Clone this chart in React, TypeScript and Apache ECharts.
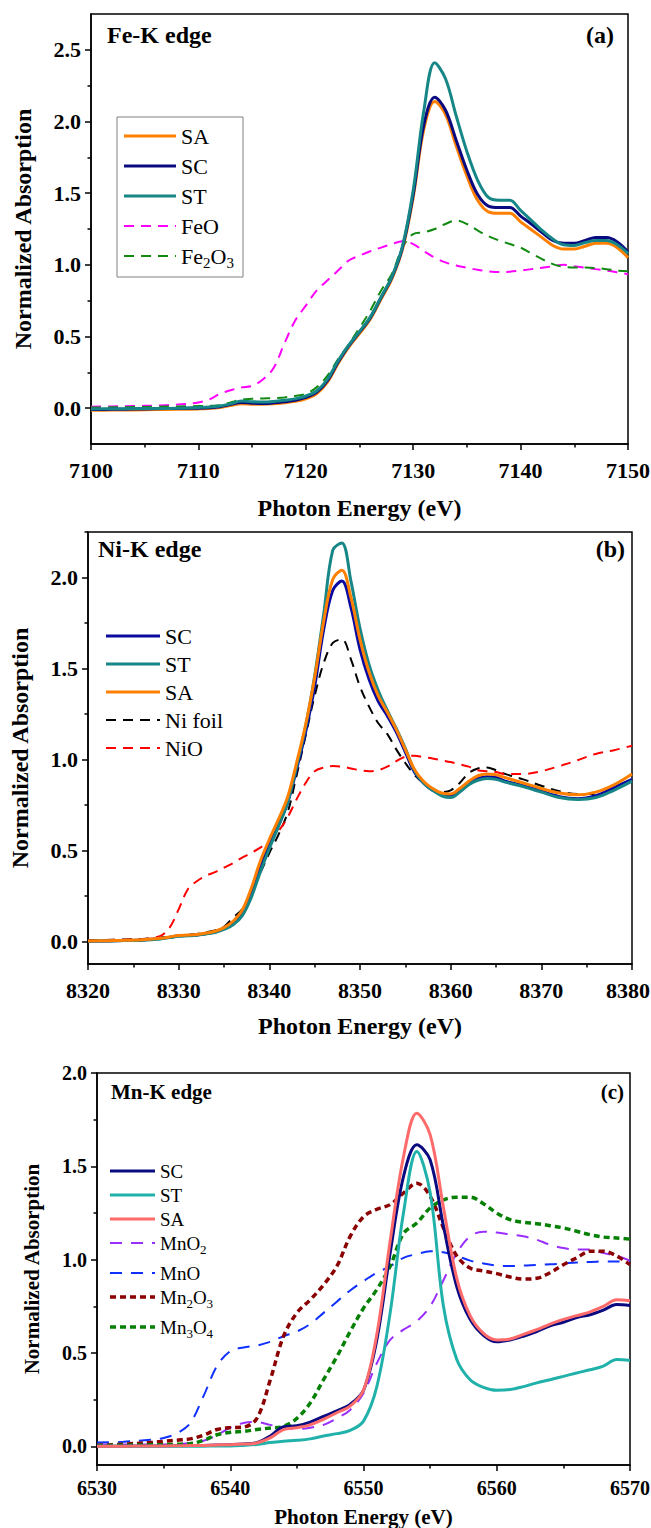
import React, { useEffect, useRef } from "react";
import * as echarts from "echarts";

const FONT = "Times New Roman, Liberation Serif, serif";

// ---------- Panel (a) Fe-K edge ----------
const feEnergy = [7100, 7102, 7104, 7106, 7108, 7110, 7111, 7112, 7113, 7114, 7115, 7116, 7117, 7118, 7119, 7120, 7121, 7122, 7123, 7124, 7125, 7126, 7127, 7128, 7129, 7130, 7131, 7132, 7133, 7134, 7135, 7136, 7137, 7138, 7139, 7140, 7141, 7142, 7143, 7144, 7145, 7146, 7147, 7148, 7149, 7150];
const feSA = [-0.015, -0.013, -0.012, -0.01, -0.008, -0.005, -0.002, 0.005, 0.018, 0.03, 0.028, 0.027, 0.03, 0.038, 0.048, 0.065, 0.10, 0.18, 0.31, 0.425, 0.52, 0.62, 0.76, 0.90, 1.11, 1.47, 1.95, 2.14, 2.05, 1.83, 1.62, 1.45, 1.37, 1.36, 1.36, 1.30, 1.245, 1.19, 1.135, 1.11, 1.11, 1.13, 1.15, 1.15, 1.12, 1.05];
const feSC = [-0.01, -0.008, -0.006, -0.004, -0.002, 0.0, 0.003, 0.01, 0.025, 0.04, 0.035, 0.033, 0.037, 0.045, 0.055, 0.075, 0.11, 0.19, 0.32, 0.435, 0.53, 0.63, 0.77, 0.91, 1.12, 1.49, 1.98, 2.17, 2.08, 1.87, 1.66, 1.49, 1.41, 1.40, 1.40, 1.34, 1.285, 1.225, 1.17, 1.15, 1.15, 1.17, 1.19, 1.19, 1.16, 1.09];
const feST = [-0.005, -0.004, -0.003, -0.002, 0.0, 0.005, 0.008, 0.015, 0.03, 0.05, 0.045, 0.043, 0.047, 0.055, 0.065, 0.085, 0.12, 0.20, 0.33, 0.44, 0.535, 0.635, 0.775, 0.915, 1.13, 1.52, 2.08, 2.41, 2.30, 2.04, 1.79, 1.59, 1.47, 1.45, 1.45, 1.38, 1.31, 1.24, 1.18, 1.14, 1.135, 1.155, 1.17, 1.17, 1.14, 1.08];
const feFeO = [0.01, 0.012, 0.015, 0.018, 0.025, 0.04, 0.06, 0.10, 0.125, 0.145, 0.155, 0.20, 0.28, 0.45, 0.61, 0.715, 0.82, 0.89, 0.96, 1.03, 1.064, 1.095, 1.12, 1.145, 1.165, 1.145, 1.095, 1.05, 1.017, 0.995, 0.98, 0.965, 0.955, 0.95, 0.952, 0.96, 0.97, 0.98, 0.99, 1.0, 0.99, 0.98, 0.97, 0.96, 0.948, 0.935];
const feFe2O3 = [0.005, 0.006, 0.008, 0.01, 0.012, 0.015, 0.017, 0.02, 0.04, 0.06, 0.065, 0.068, 0.07, 0.075, 0.085, 0.10, 0.145, 0.225, 0.34, 0.445, 0.56, 0.68, 0.82, 0.935, 1.12, 1.215, 1.227, 1.25, 1.285, 1.31, 1.285, 1.24, 1.20, 1.17, 1.145, 1.12, 1.08, 1.04, 1.005, 0.987, 0.982, 0.982, 0.978, 0.97, 0.96, 0.955];
const feXTicks = [7100, 7110, 7120, 7130, 7140, 7150];
const feYTicks = [0, 0.5, 1.0, 1.5, 2.0, 2.5];
const feYMinor = [0.25, 0.75, 1.25, 1.75, 2.25];

// ---------- Panel (b) Ni-K edge ----------
const niEnergy = [8320, 8322, 8324, 8326, 8328, 8329, 8330, 8331, 8332, 8333, 8334, 8335, 8336, 8337, 8338, 8339, 8340, 8341, 8342, 8343, 8344, 8345, 8346, 8347, 8348, 8349, 8350, 8351, 8352, 8353, 8354, 8355, 8356, 8357, 8358, 8359, 8360, 8361, 8362, 8363, 8364, 8365, 8366, 8368, 8370, 8372, 8374, 8376, 8378, 8380];
const niSC = [0, 0.002, 0.004, 0.007, 0.015, 0.022, 0.03, 0.032, 0.035, 0.042, 0.05, 0.07, 0.10, 0.155, 0.27, 0.41, 0.53, 0.64, 0.76, 0.945, 1.15, 1.40, 1.715, 1.93, 1.98, 1.835, 1.605, 1.44, 1.32, 1.24, 1.15, 1.04, 0.93, 0.87, 0.83, 0.81, 0.80, 0.835, 0.87, 0.895, 0.905, 0.90, 0.88, 0.855, 0.825, 0.795, 0.783, 0.80, 0.845, 0.89];
const niST = [0, 0.002, 0.004, 0.006, 0.013, 0.02, 0.027, 0.03, 0.033, 0.04, 0.048, 0.065, 0.09, 0.14, 0.24, 0.38, 0.51, 0.63, 0.76, 0.96, 1.18, 1.46, 1.80, 2.15, 2.19, 1.98, 1.72, 1.52, 1.38, 1.27, 1.17, 1.06, 0.94, 0.87, 0.83, 0.80, 0.79, 0.82, 0.86, 0.885, 0.895, 0.89, 0.875, 0.85, 0.82, 0.79, 0.78, 0.79, 0.83, 0.88];
const niSA = [0.002, 0.003, 0.005, 0.008, 0.016, 0.024, 0.032, 0.034, 0.037, 0.045, 0.055, 0.075, 0.11, 0.17, 0.29, 0.44, 0.56, 0.67, 0.79, 0.98, 1.19, 1.45, 1.76, 1.99, 2.04, 1.89, 1.66, 1.48, 1.35, 1.26, 1.165, 1.055, 0.945, 0.88, 0.84, 0.815, 0.81, 0.84, 0.88, 0.91, 0.92, 0.915, 0.90, 0.87, 0.84, 0.815, 0.805, 0.82, 0.86, 0.92];
const niFoil = [0.005, 0.007, 0.01, 0.013, 0.02, 0.025, 0.03, 0.035, 0.04, 0.05, 0.06, 0.08, 0.13, 0.175, 0.27, 0.375, 0.485, 0.585, 0.705, 0.91, 1.13, 1.35, 1.53, 1.64, 1.66, 1.55, 1.40, 1.29, 1.20, 1.14, 1.055, 0.98, 0.915, 0.87, 0.84, 0.82, 0.83, 0.87, 0.925, 0.95, 0.955, 0.94, 0.92, 0.89, 0.855, 0.825, 0.81, 0.81, 0.835, 0.88];
const niNiO = [0.005, 0.007, 0.009, 0.012, 0.03, 0.075, 0.175, 0.285, 0.33, 0.36, 0.38, 0.405, 0.43, 0.46, 0.485, 0.515, 0.55, 0.605, 0.68, 0.78, 0.87, 0.935, 0.955, 0.963, 0.96, 0.95, 0.94, 0.935, 0.94, 0.96, 0.99, 1.015, 1.02, 1.012, 1.005, 0.995, 0.985, 0.973, 0.96, 0.94, 0.935, 0.93, 0.92, 0.92, 0.935, 0.963, 0.995, 1.03, 1.05, 1.075];
const niXTicks = [8320, 8330, 8340, 8350, 8360, 8370, 8380];
const niYTicks = [0, 0.5, 1.0, 1.5, 2.0];
const niYMinor = [0.25, 0.75, 1.25, 1.75, 2.25];

// ---------- Panel (c) Mn-K edge ----------
const mnEnergy = [6530, 6532, 6534, 6535, 6536, 6537, 6538, 6539, 6540, 6541, 6542, 6543, 6544, 6545, 6546, 6547, 6548, 6549, 6550, 6551, 6552, 6553, 6554, 6555, 6556, 6557, 6558, 6559, 6560, 6561, 6562, 6563, 6564, 6565, 6566, 6567, 6568, 6569, 6570];
const mnSC = [0, 0.001, 0.002, 0.002, 0.003, 0.004, 0.005, 0.007, 0.009, 0.0125, 0.02, 0.055, 0.105, 0.11, 0.13, 0.16, 0.19, 0.225, 0.30, 0.57, 1.035, 1.445, 1.615, 1.535, 1.18, 0.855, 0.68, 0.595, 0.56, 0.57, 0.59, 0.615, 0.645, 0.665, 0.69, 0.705, 0.73, 0.76, 0.755];
const mnST = [0, 0, 0, 0, 0.001, 0.001, 0.001, 0.002, 0.002, 0.005, 0.01, 0.02, 0.027, 0.032, 0.04, 0.055, 0.068, 0.085, 0.135, 0.32, 0.715, 1.25, 1.58, 1.36, 0.75, 0.465, 0.357, 0.316, 0.30, 0.304, 0.32, 0.34, 0.357, 0.375, 0.393, 0.41, 0.43, 0.465, 0.46];
const mnSA = [0, 0.001, 0.002, 0.002, 0.003, 0.004, 0.005, 0.007, 0.009, 0.012, 0.018, 0.045, 0.09, 0.10, 0.115, 0.145, 0.18, 0.215, 0.30, 0.60, 1.10, 1.55, 1.785, 1.67, 1.28, 0.90, 0.70, 0.605, 0.57, 0.575, 0.60, 0.625, 0.655, 0.68, 0.70, 0.72, 0.75, 0.785, 0.78];
const mnMnO2 = [0.01, 0.01, 0.01, 0.01, 0.012, 0.018, 0.03, 0.06, 0.10, 0.125, 0.13, 0.115, 0.10, 0.093, 0.10, 0.115, 0.15, 0.195, 0.285, 0.445, 0.57, 0.625, 0.67, 0.75, 0.89, 1.035, 1.125, 1.15, 1.145, 1.135, 1.125, 1.107, 1.08, 1.062, 1.055, 1.055, 1.035, 1.02, 0.995];
const mnMnO = [0.02, 0.025, 0.035, 0.045, 0.07, 0.125, 0.27, 0.43, 0.51, 0.53, 0.54, 0.56, 0.59, 0.615, 0.655, 0.715, 0.775, 0.835, 0.885, 0.93, 0.965, 1.01, 1.03, 1.045, 1.04, 1.02, 0.995, 0.98, 0.968, 0.966, 0.968, 0.972, 0.975, 0.98, 0.985, 0.988, 0.99, 0.99, 0.988];
const mnMn2O3 = [0.005, 0.012, 0.02, 0.027, 0.033, 0.04, 0.06, 0.09, 0.10, 0.103, 0.15, 0.355, 0.59, 0.715, 0.785, 0.865, 0.965, 1.125, 1.23, 1.27, 1.295, 1.357, 1.41, 1.34, 1.17, 1.02, 0.955, 0.94, 0.925, 0.907, 0.896, 0.90, 0.93, 0.973, 1.01, 1.045, 1.045, 1.02, 0.973];
const mnMn3O4 = [0.004, 0.006, 0.008, 0.009, 0.011, 0.014, 0.032, 0.062, 0.075, 0.08, 0.09, 0.098, 0.107, 0.15, 0.232, 0.357, 0.48, 0.615, 0.74, 0.84, 0.965, 1.14, 1.196, 1.277, 1.32, 1.335, 1.335, 1.30, 1.25, 1.214, 1.20, 1.193, 1.182, 1.17, 1.152, 1.134, 1.121, 1.116, 1.11];
const mnXTicks = [6530, 6540, 6550, 6560, 6570];
const mnYTicks = [0, 0.5, 1.0, 1.5, 2.0];
const mnYMinor = [0.25, 0.75, 1.25, 1.75];

type Def = { name: string; x: number[]; y: number[]; color: string; width: number; dash?: number[] };

const zip = (xs: number[], ys: number[]) => xs.map((x, i) => [x, ys[i]]);
const richLabel = (name: string) => name.replace(/(\d)/g, "{sub|$1}");

const DASH = [10, 7];
const LDASH = [12, 9];
const DOT = [6, 4];

const panelA: Def[] = [
  { name: "SA", x: feEnergy, y: feSA, color: "#ff8000", width: 3 },
  { name: "SC", x: feEnergy, y: feSC, color: "#0a0a80", width: 3 },
  { name: "ST", x: feEnergy, y: feST, color: "#178686", width: 3 },
  { name: "FeO", x: feEnergy, y: feFeO, color: "#ff00ff", width: 2, dash: DASH },
  { name: "Fe2O3", x: feEnergy, y: feFe2O3, color: "#128a12", width: 2, dash: DASH },
];
const panelB: Def[] = [
  { name: "SC", x: niEnergy, y: niSC, color: "#0a0aa0", width: 3 },
  { name: "ST", x: niEnergy, y: niST, color: "#178686", width: 3 },
  { name: "SA", x: niEnergy, y: niSA, color: "#ff8000", width: 3 },
  { name: "Ni foil", x: niEnergy, y: niFoil, color: "#000000", width: 2, dash: DASH },
  { name: "NiO", x: niEnergy, y: niNiO, color: "#ff0000", width: 2, dash: DASH },
];
const panelC: Def[] = [
  { name: "SC", x: mnEnergy, y: mnSC, color: "#0a0a80", width: 3 },
  { name: "ST", x: mnEnergy, y: mnST, color: "#20b2aa", width: 3 },
  { name: "SA", x: mnEnergy, y: mnSA, color: "#ff6b6b", width: 3 },
  { name: "MnO2", x: mnEnergy, y: mnMnO2, color: "#9a2eff", width: 2, dash: LDASH },
  { name: "MnO", x: mnEnergy, y: mnMnO, color: "#1030ff", width: 2, dash: LDASH },
  { name: "Mn2O3", x: mnEnergy, y: mnMn2O3, color: "#8b0000", width: 3.5, dash: DOT },
  { name: "Mn3O4", x: mnEnergy, y: mnMn3O4, color: "#058005", width: 3.5, dash: DOT },
];

type Panel = {
  defs: Def[]; grid: { left: number; top: number; width: number; height: number };
  xMin: number; xMax: number; yMin: number; yMax: number;
  xTicks: number[]; yTicks: number[]; yMinor: number[];
  tickFs: number; nameFs: number; legFs: number; subFs: number;
  xLabOff: number; xNameOff: number; yNameX: number;
  title: string; tag: string; titleX: number; tagX: number; titleY: number;
  leg: { lineX: number; lineW: number; y0: number; step: number; subExtra: number; box?: number[] };
};

const PANELS: Panel[] = [
  {
    defs: panelA, grid: { left: 91, top: 14, width: 537, height: 430 },
    xMin: 7100, xMax: 7150, yMin: -0.25, yMax: 2.75, xTicks: feXTicks, yTicks: feYTicks, yMinor: feYMinor,
    tickFs: 22, nameFs: 24, legFs: 22, subFs: 15, xLabOff: 26, xNameOff: 64, yNameX: 23,
    title: "Fe-K edge", tag: "(a)", titleX: 107, tagX: 614, titleY: 35,
    leg: { lineX: 124, lineW: 52, y0: 136, step: 30, subExtra: 0, box: [117, 117, 126, 160] },
  },
  {
    defs: panelB, grid: { left: 88, top: 532, width: 544, height: 432 },
    xMin: 8320, xMax: 8380, yMin: -0.125, yMax: 2.25, xTicks: niXTicks, yTicks: niYTicks, yMinor: niYMinor,
    tickFs: 22, nameFs: 24, legFs: 22, subFs: 15, xLabOff: 26, xNameOff: 62, yNameX: 20,
    title: "Ni-K edge", tag: "(b)", titleX: 98, tagX: 625, titleY: 549,
    leg: { lineX: 106, lineW: 54, y0: 636, step: 28, subExtra: 0 },
  },
  {
    defs: panelC, grid: { left: 97, top: 1073, width: 533, height: 392 },
    xMin: 6530, xMax: 6570, yMin: -0.1, yMax: 2.0, xTicks: mnXTicks, yTicks: mnYTicks, yMinor: mnYMinor,
    tickFs: 20, nameFs: 21, legFs: 19, subFs: 13, xLabOff: 23, xNameOff: 52, yNameX: 32,
    title: "Mn-K edge", tag: "(c)", titleX: 111, tagX: 624, titleY: 1092,
    leg: { lineX: 110, lineW: 45, y0: 1171, step: 24, subExtra: 6 },
  },
];

const black = "#000";
const tickLine = { color: black, width: 1.5 };
const PAGE_W = 651;

function text(x: number, y: number, s: string, fs: number, align: string, bold: boolean, extra: any = {}) {
  return {
    type: "text", x, y, silent: true, z: 100, ...extra,
    style: { text: s, fontFamily: FONT, fontWeight: bold ? "bold" : "normal", fontSize: fs, fill: black, align, verticalAlign: "middle", ...(extra.style || {}) },
  };
}

export default function App() {
  const ref = useRef<HTMLDivElement>(null);
  useEffect(() => {
    if (!ref.current) return;
    const chart = echarts.init(ref.current, null, { renderer: "svg" });
    const xAxis: any[] = [];
    const yAxis: any[] = [];
    const series: any[] = [];
    PANELS.forEach((P, i) => {
      xAxis.push({
        type: "value", gridIndex: i, min: P.xMin, max: P.xMax, interval: 10,
        axisLine: { show: true, onZero: false, lineStyle: tickLine },
        axisTick: { show: true, length: 6, lineStyle: tickLine },
        minorTick: { show: true, splitNumber: 2, length: 3.5, lineStyle: tickLine },
        splitLine: { show: false }, minorSplitLine: { show: false },
        axisLabel: { show: false },
      });
      yAxis.push(
        {
          type: "value", gridIndex: i, min: P.yMin, max: P.yMax, position: "left",
          axisLine: { show: true, onZero: false, lineStyle: tickLine },
          axisTick: { show: true, length: 6, customValues: P.yTicks, lineStyle: tickLine },
          axisLabel: { show: false }, splitLine: { show: false },
        },
        {
          type: "value", gridIndex: i, min: P.yMin, max: P.yMax, position: "left",
          axisLine: { show: false },
          axisTick: { show: true, length: 3.5, customValues: P.yMinor, lineStyle: tickLine },
          axisLabel: { show: false }, splitLine: { show: false },
        }
      );
      P.defs.forEach((d) => {
        series.push({
          type: "line", name: d.name, xAxisIndex: i, yAxisIndex: i * 2,
          data: zip(d.x, d.y), symbol: "none", showSymbol: false, smooth: 0.35,
          z: d.dash ? 2 : 3,
          lineStyle: { color: d.color, width: d.width, type: d.dash ? d.dash : "solid" },
          itemStyle: { color: d.color },
        });
      });
    });
    chart.setOption({
      animation: false,
      backgroundColor: "#fff",
      textStyle: { fontFamily: FONT },
      grid: PANELS.map((P) => ({ ...P.grid, show: true, borderColor: black, borderWidth: 1.5, backgroundColor: "transparent" })),
      xAxis, yAxis, series,
    });

    // Texts: tick labels placed via the library's own scales, axis names, panel titles, legends
    const g: any[] = [];
    PANELS.forEach((P, i) => {
      const finder = { xAxisIndex: i, yAxisIndex: i * 2 };
      const axisY = P.grid.top + P.grid.height;
      P.xTicks.forEach((v) => {
        const pt = chart.convertToPixel(finder, [v, P.yMin]) as number[];
        const halfW = P.tickFs * 1.0;
        const cx = Math.min(pt[0], PAGE_W - halfW - 1);
        g.push(text(cx, axisY + P.xLabOff, String(v), P.tickFs, "center", true));
      });
      P.yTicks.forEach((v) => {
        const pt = chart.convertToPixel(finder, [P.xMin, v]) as number[];
        g.push(text(P.grid.left - 10, pt[1], v.toFixed(1), P.tickFs, "right", true));
      });
      g.push(text(P.grid.left + P.grid.width / 2, axisY + P.xNameOff, "Photon Energy (eV)", P.nameFs, "center", true));
      g.push(text(P.yNameX, P.grid.top + P.grid.height / 2, "Normalized Absorption", P.nameFs, "center", true, { rotation: Math.PI / 2 }));
      g.push(text(P.titleX, P.titleY, P.title, P.nameFs, "left", true));
      g.push(text(P.tagX, P.titleY, P.tag, P.nameFs, "right", true));

      const L = P.leg;
      if (L.box) {
        g.push({ type: "rect", silent: true, z: 90, shape: { x: L.box[0], y: L.box[1], width: L.box[2], height: L.box[3] }, style: { fill: "#fff", stroke: "#808080", lineWidth: 1 } });
      }
      let y = L.y0;
      P.defs.forEach((d, k) => {
        if (k > 0) y += L.step + (/\d/.test(P.defs[k - 1].name) ? L.subExtra : 0);
        g.push({
          type: "line", silent: true, z: 100,
          shape: { x1: L.lineX, y1: y, x2: L.lineX + L.lineW, y2: y },
          style: { stroke: d.color, lineWidth: d.width, lineDash: d.dash || null },
        });
        g.push(text(L.lineX + L.lineW + 5, y, richLabel(d.name), P.legFs, "left", false, {
          style: { rich: { sub: { fontFamily: FONT, fontSize: P.subFs, fill: black, padding: [Math.round(P.subFs * 0.9), 0, 0, 0] } } },
        }));
      });
    });
    chart.setOption({ graphic: g });
    return () => chart.dispose();
  }, []);
  return <div ref={ref} style={{ position: "absolute", left: 0, top: 0, width: 651, height: 1528 }} />;
}
